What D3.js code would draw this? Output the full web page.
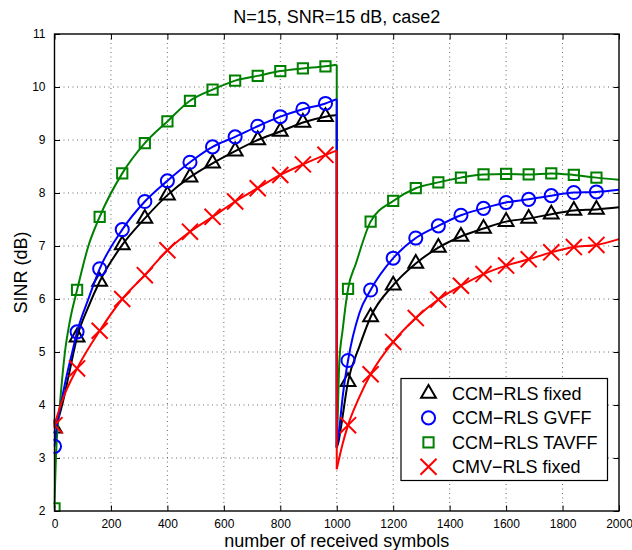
<!DOCTYPE html>
<html>
<head>
<meta charset="utf-8">
<script src="https://cdn.jsdelivr.net/npm/d3@7"></script>
<style>
  body { margin: 0; background: #fff; }
  svg { font-family: "Liberation Sans", Arial, sans-serif; }
</style>
</head>
<body>
<div id="chart"></div>
<script>
// Symbols where the markers sit (every 80 received symbols)
const markerSymbols = [0, 80, 160, 240, 320, 400, 480, 560, 640, 720, 800, 880, 960,
  1040, 1120, 1200, 1280, 1360, 1440, 1520, 1600, 1680, 1760, 1840, 1920]

// SINR (dB) at the marker positions
const ccmFixed = [3.56, 5.28, 6.33, 7.02, 7.52, 7.96, 8.30, 8.56, 8.79, 9.00, 9.16, 9.33, 9.44,
  4.44, 5.66, 6.26, 6.67, 6.97, 7.18, 7.33, 7.46, 7.52, 7.60, 7.67, 7.69]
const ccmGvff = [3.22, 5.38, 6.57, 7.31, 7.84, 8.23, 8.58, 8.87, 9.06, 9.26, 9.44, 9.58, 9.69,
  4.84, 6.17, 6.77, 7.15, 7.38, 7.58, 7.71, 7.82, 7.88, 7.95, 8.01, 8.02]
const ccmTavff = [2.05, 6.17, 7.55, 8.37, 8.94, 9.35, 9.74, 9.95, 10.12, 10.21, 10.30, 10.35, 10.39,
  6.19, 7.46, 7.85, 8.09, 8.20, 8.29, 8.35, 8.36, 8.35, 8.37, 8.34, 8.29]
const cmvFixed = [3.62, 4.69, 5.40, 6.00, 6.45, 6.92, 7.27, 7.55, 7.84, 8.09, 8.34, 8.54, 8.72,
  3.62, 4.58, 5.19, 5.64, 5.99, 6.25, 6.47, 6.63, 6.75, 6.88, 6.98, 7.02]

// Extra curve samples between markers (steep parts, the jump at 1000, the end)
const ccmFixedExtra = [[10, 3.68], [27, 4.0], [50, 4.55], [120, 5.85], [1000, 9.47], [1000, 3.2],
  [1006, 3.3], [1014, 3.55], [1080, 5.1], [2000, 7.73]]
const ccmGvffExtra = [[8, 3.6], [22, 4.0], [45, 4.6], [63, 5.0], [120, 6.0], [1000, 9.77], [1000, 3.2],
  [1009, 3.55], [1021, 4.16], [1080, 5.73], [2000, 8.06]]
const ccmTavffExtra = [[2, 2.5], [5, 3.0], [19, 4.0], [37, 5.0], [55, 5.6], [120, 7.0], [1000, 10.42],
  [1000, 3.2], [1002, 3.5], [1009, 4.8], [1021, 5.42], [1068, 6.67], [2000, 8.25]]
const cmvFixedExtra = [[25, 4.05], [1000, 8.8], [1000, 2.79], [1020, 3.25], [1080, 4.15], [2000, 7.13]]

const xTicks = [0, 200, 400, 600, 800, 1000, 1200, 1400, 1600, 1800, 2000]
const yTicks = [2, 3, 4, 5, 6, 7, 8, 9, 10, 11]

const titleText = "N=15, SNR=15 dB, case2"
const xLabel = "number of received symbols"
const yLabel = "SINR (dB)"

// legend order differs from drawing order (blue covers green on the drop)
const series = [
  { name: "CCM\u2212RLS fixed", values: ccmFixed, extra: ccmFixedExtra, color: "#000000", symbol: d3.symbolTriangle, size: 95, legend: 0 },
  { name: "CCM\u2212RLS TAVFF", values: ccmTavff, extra: ccmTavffExtra, color: "#008000", symbol: d3.symbolSquare, size: 105, legend: 2 },
  { name: "CCM\u2212RLS GVFF", values: ccmGvff, extra: ccmGvffExtra, color: "#0000ff", symbol: d3.symbolCircle, size: 135, legend: 1 },
  { name: "CMV\u2212RLS fixed", values: cmvFixed, extra: cmvFixedExtra, color: "#ff0000", symbol: d3.symbolTimes, size: 170, legend: 3 },
]

const dimensions = {
  width: 632,
  height: 550,
  margin: { top: 34, right: 13, bottom: 39, left: 54.5 },
}
dimensions.boundedWidth = dimensions.width - dimensions.margin.left - dimensions.margin.right
dimensions.boundedHeight = dimensions.height - dimensions.margin.top - dimensions.margin.bottom

const xScale = d3.scaleLinear().domain([0, 2000]).range([0, dimensions.boundedWidth])
const yScale = d3.scaleLinear().domain([2, 11]).range([dimensions.boundedHeight, 0])

const svg = d3.select("#chart")
  .append("svg")
  .attr("width", dimensions.width)
  .attr("height", dimensions.height)

const bounds = svg.append("g")
  .attr("transform", `translate(${dimensions.margin.left}, ${dimensions.margin.top})`)

// dotted grid
const grid = bounds.append("g")
  .attr("stroke", "#444")
  .attr("stroke-width", 0.8)
  .attr("stroke-dasharray", "1,3.5")
grid.selectAll(".gx")
  .data(xTicks.slice(1, -1))
  .enter().append("line")
  .attr("x1", d => xScale(d)).attr("x2", d => xScale(d))
  .attr("y1", 0).attr("y2", dimensions.boundedHeight)
grid.selectAll(".gy")
  .data(yTicks.slice(1, -1))
  .enter().append("line")
  .attr("y1", d => yScale(d)).attr("y2", d => yScale(d))
  .attr("x1", 0).attr("x2", dimensions.boundedWidth)

// axes, ticks pointing inward on all four sides
const tickLen = 5.5
const xAxisGen = d3.axisBottom(xScale).tickValues(xTicks).tickFormat(d3.format("d"))
  .tickSizeInner(-tickLen).tickSizeOuter(0).tickPadding(8)
const yAxisGen = d3.axisLeft(yScale).tickValues(yTicks).tickFormat(d3.format("d"))
  .tickSizeInner(-tickLen).tickSizeOuter(0).tickPadding(9)
const xAxis = bounds.append("g")
  .attr("transform", `translate(0, ${dimensions.boundedHeight})`)
  .call(xAxisGen)
const yAxis = bounds.append("g").call(yAxisGen)
bounds.append("g")
  .call(d3.axisTop(xScale).tickValues(xTicks).tickSizeInner(-tickLen).tickSizeOuter(0).tickFormat(""))
bounds.append("g")
  .attr("transform", `translate(${dimensions.boundedWidth}, 0)`)
  .call(d3.axisRight(yScale).tickValues(yTicks).tickSizeInner(-tickLen).tickSizeOuter(0).tickFormat(""))
bounds.selectAll(".domain").remove()
bounds.selectAll(".tick line").attr("stroke", "#000").attr("stroke-width", 1)
xAxis.selectAll("text").attr("font-size", 12).attr("fill", "#000")
  .attr("font-family", "Liberation Sans, Arial, sans-serif")
yAxis.selectAll("text").attr("font-size", 12).attr("fill", "#000")
  .attr("font-family", "Liberation Sans, Arial, sans-serif")

// curves
const lineGen = d3.line()
  .x(d => xScale(d[0]))
  .y(d => yScale(d[1]))
  .curve(d3.curveMonotoneX)

bounds.append("clipPath").attr("id", "plot-clip")
  .append("rect")
  .attr("x", -1).attr("y", -1)
  .attr("width", dimensions.boundedWidth + 2)
  .attr("height", dimensions.boundedHeight + 2)

const plot = bounds.append("g").attr("clip-path", "url(#plot-clip)")

series.forEach(s => {
  const marks = markerSymbols.map((x, i) => [x, s.values[i]])
  const pts = [...marks, ...s.extra].sort((a, b) => a[0] - b[0])
  const jump = pts.findIndex(p => p[0] === 1000)
  const segA = pts.slice(0, jump + 1)
  const segB = pts.slice(jump + 1)
  const g = plot.append("g")
    .attr("fill", "none")
    .attr("stroke", s.color)
    .attr("stroke-width", 2)
  g.append("path").attr("d", lineGen(segA))
  g.append("line")
    .attr("x1", xScale(segA[segA.length - 1][0])).attr("y1", yScale(segA[segA.length - 1][1]))
    .attr("x2", xScale(segB[0][0])).attr("y2", yScale(segB[0][1]))
  g.append("path").attr("d", lineGen(segB))
  g.selectAll(".mark")
    .data(marks)
    .enter().append("path")
    .attr("transform", d => `translate(${xScale(d[0])}, ${yScale(d[1])})`)
    .attr("d", d3.symbol(s.symbol, s.size))
})

// frame
bounds.append("rect")
  .attr("width", dimensions.boundedWidth)
  .attr("height", dimensions.boundedHeight)
  .attr("fill", "none")
  .attr("stroke", "#000")
  .attr("stroke-width", 1.4)

// legend
const legendBox = { x: 401, y: 378.5, w: 206.5, h: 102 }
const legend = svg.append("g").attr("transform", `translate(${legendBox.x}, ${legendBox.y})`)
legend.append("rect")
  .attr("width", legendBox.w).attr("height", legendBox.h)
  .attr("fill", "#fff").attr("stroke", "#000").attr("stroke-width", 1.2)
const legendItems = legend.selectAll(".item")
  .data(series.slice().sort((a, b) => a.legend - b.legend))
  .enter().append("g")
  .attr("transform", (d, i) => `translate(0, ${15 + i * 24.4})`)
legendItems.append("path")
  .attr("transform", "translate(27.5, 0)")
  .attr("d", d => d3.symbol(d.symbol, d.size)())
  .attr("fill", "none")
  .attr("stroke", d => d.color)
  .attr("stroke-width", 2)
legendItems.append("text")
  .attr("x", 51)
  .attr("dy", "0.36em")
  .attr("font-size", 18)
  .text(d => d.name)

// title and axis labels
svg.append("text")
  .attr("x", dimensions.margin.left + dimensions.boundedWidth / 2)
  .attr("y", 23)
  .attr("text-anchor", "middle")
  .attr("font-size", 18)
  .text(titleText)
svg.append("text")
  .attr("x", dimensions.margin.left + dimensions.boundedWidth / 2)
  .attr("y", 546.5)
  .attr("text-anchor", "middle")
  .attr("font-size", 18)
  .text(xLabel)
svg.append("text")
  .attr("transform", `translate(26.5, ${dimensions.margin.top + dimensions.boundedHeight / 2}) rotate(-90)`)
  .attr("text-anchor", "middle")
  .attr("font-size", 18)
  .text(yLabel)
</script>
</body>
</html>
